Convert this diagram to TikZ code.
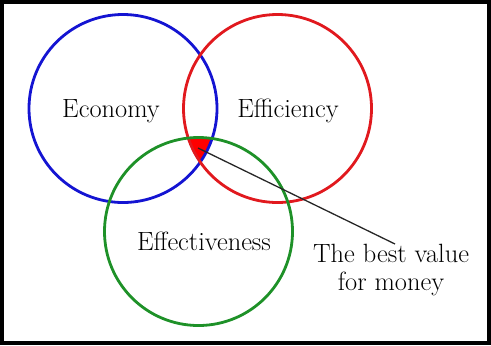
\documentclass[tikz,border=0pt]{standalone}
\usepackage{fontspec}
\definecolor{ecoblue}{RGB}{20,20,210}
\definecolor{effred}{RGB}{225,25,30}
\definecolor{effgreen}{RGB}{30,145,40}
\begin{document}
\begin{tikzpicture}[x=1bp,y=-1bp,
  ring/.style={circle,draw=#1,line width=2.8bp,minimum size=188bp,inner sep=0pt},
  word/.style={font=\fontsize{26.5}{31}\selectfont,inner sep=0pt,anchor=base}]
  \useasboundingbox (0,0) rectangle (491,345);
  % outer frame
  \draw[line width=4bp] (2,2) rectangle (489,343);
  % shared region of the three circles
  \begin{scope}
    \clip (123,108.5) circle[radius=94];
    \clip (277.5,108.5) circle[radius=94];
    \fill[red] (198.5,231.5) circle[radius=94];
  \end{scope}
  % circles
  \node[ring=ecoblue] (economy) at (123,108.5) {};
  \node[ring=effred] (efficiency) at (277.5,108.5) {};
  \node[ring=effgreen] (effectiveness) at (198.5,231.5) {};
  % labels
  \node[word] (t1) at (111,117) {Economy};
  \node[word] (t2) at (288,117) {Efficiency};
  \node[word] (t3) at (204,250) {Effectiveness};
  \node[word,align=center,anchor=north] (best) at (391,244) {The best value\\[-3bp]for money};
  % pointer
  \coordinate (core) at (198,148);
  \draw[line width=1.3bp,black!85] (core) -- (best.north -| 395,0);
\end{tikzpicture}
\end{document}
